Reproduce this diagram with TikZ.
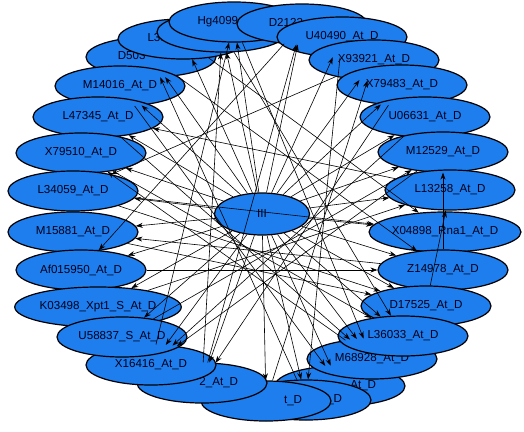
\documentclass[tikz,border=0pt]{standalone}
\usepackage{fontspec}
\setmainfont{Liberation Sans}
\usetikzlibrary{arrows.meta,shapes}
\definecolor{nodeblue}{RGB}{30,126,238}

\begin{document}
\begin{tikzpicture}[
    x=1pt, y=-1pt,
    gene/.style={ellipse, draw, line width=1.2pt, fill=nodeblue, minimum width=130pt, minimum height=40pt, inner sep=0.5pt, font=\fontsize{11.6}{14}\selectfont, text=black!90!blue},
    hub/.style={gene, minimum width=95pt, minimum height=42pt},
    arrow/.style={-{Stealth[length=7pt,width=5pt]}, line width=0.6pt}
]
\useasboundingbox (0,0) rectangle (524,431);

% Nodes (back to front)
\node[gene] (d503) at (151,57) {D503\phantom{2\_At\_D}};
\node[gene] (l33) at (183,39) {L33\phantom{404\_At\_D}};
\node[gene] (topx) at (222,32) {\phantom{X00000\_At\_D}};
\node[gene] (hg4099) at (234,22) {Hg4099\phantom{\_At\_D}};
\node[gene] (d2123) at (302,24) {D2123\phantom{\_At\_D}};
\node[gene] (u40490) at (342,37) {U40490\_At\_D};
\node[gene] (x93921) at (374,60) {X93921\_At\_D};
\node[gene] (x79483) at (402,85) {X79483\_At\_D};
\node[gene] (u06631) at (425,117) {U06631\_At\_D};
\node[gene] (m12529) at (443,152) {M12529\_At\_D};
\node[gene] (l13258) at (450,190) {L13258\_At\_D};
\node[gene] (x04898) at (445,232) {X04898\_Rna1\_At\_D};
\node[gene] (z14978) at (443,270) {Z14978\_At\_D};
\node[gene] (d17525) at (426,306) {D17525\_At\_D};
\node[gene] (bota) at (340,386) {\phantom{X70462\_}At\_D};
\node[gene] (botb) at (306,400) {\phantom{X70462\_At}\_D};
\node[gene] (botc) at (266,401) {\phantom{X70462\_A}t\_D};
\node[gene] (bot2) at (202,383) {\phantom{X7046}2\_At\_D};
\node[gene] (m68928) at (372,359) {M68928\_At\_D};
\node[gene] (x16416) at (151,365) {X16416\_At\_D};
\node[gene] (l36033) at (403,336) {L36033\_At\_D};
\node[gene] (m14016) at (120,86) {M14016\_At\_D};
\node[gene] (l47345) at (98,117) {L47345\_At\_D};
\node[gene] (x79510) at (81,153) {X79510\_At\_D};
\node[gene] (l34059) at (73,191) {L34059\_At\_D};
\node[gene] (m15881) at (73,232) {M15881\_At\_D};
\node[gene] (af015950) at (81,270) {Af015950\_At\_D};
\node[gene] (k03498) at (98,307) {K03498\_Xpt1\_S\_At\_D};
\node[gene] (u58837) at (122,337) {U58837\_S\_At\_D};
\node[hub] (iii) at (262,214) {III};

% Arrows
\foreach \t in {d503,l33,topx,hg4099,d2123,u40490,x93921,x79483,u06631,m12529,l13258,x04898,z14978,d17525,l36033,m68928,bota,botb,botc,bot2,x16416,u58837,k03498,af015950,m15881,l34059,x79510,l47345,m14016}
    \draw[arrow] (iii) -- (\t);
\foreach \s/\t in {bot2/topx, x16416/hg4099, botc/x93921, botb/d503, u58837/m12529, k03498/l13258, af015950/z14978, m15881/d17525, l47345/m68928, m14016/bota, d503/z14978, l33/x04898, d2123/af015950, x79483/bot2, u06631/x16416, x93921/l34059, m12529/x16416, u40490/botb, l13258/l47345, z14978/m15881, z14978/m12529, d17525/l13258, hg4099/m68928, topx/l36033, l34059/d17525, x79510/l36033, m68928/x79510, l34059/x04898, bot2/d2123}
    \draw[arrow] (\s) -- (\t);

\end{tikzpicture}
\end{document}
